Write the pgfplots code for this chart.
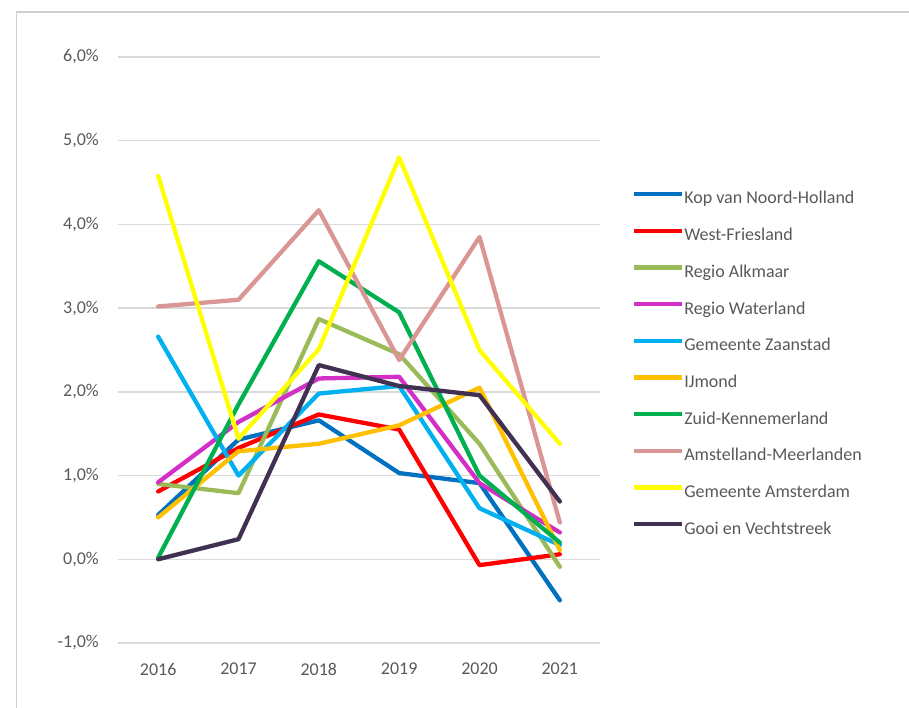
\documentclass[border=0pt]{standalone}
\usepackage{pgfplots}
\pgfplotsset{compat=1.18}
\usepackage{fontspec}
\setmainfont{Carlito}

\definecolor{kop}{HTML}{0070C0}
\definecolor{westfr}{HTML}{FF0000}
\definecolor{alkmaar}{HTML}{9BBB59}
\definecolor{waterland}{HTML}{D22FC6}
\definecolor{zaanstad}{HTML}{00B0F0}
\definecolor{ijmond}{HTML}{FFC000}
\definecolor{zuidk}{HTML}{00B050}
\definecolor{amstelland}{HTML}{DA9694}
\definecolor{amsterdam}{HTML}{FFFF00}
\definecolor{gooi}{HTML}{403152}
\definecolor{txt}{HTML}{595959}
\definecolor{gridgray}{HTML}{D9D9D9}
\definecolor{framegray}{HTML}{D0D0D0}

\begin{document}
\begin{tikzpicture}[x=1pt,y=1pt]
\path[use as bounding box] (0,0) rectangle (909,-708);
\draw[framegray, line width=1.5pt] (16.5,-708) -- (16.5,-12) -- (909,-12);
\begin{axis}[
    at={(118pt,-643pt)}, anchor=south west,
    scale only axis,
    width=482pt, height=586pt,
    xmin=2015.5, xmax=2021.5,
    ymin=-1, ymax=6,
    xtick={2016,2017,2018,2019,2020,2021},
    xticklabels={2016,2017,2018,2019,2020,2021},
    ytick={-1,0,1,2,3,4,5,6},
    yticklabels={{-1,0\%},{0,0\%},{1,0\%},{2,0\%},{3,0\%},{4,0\%},{5,0\%},{6,0\%}},
    axis line style={draw=none},
    major tick length=0pt,
    ymajorgrids=true,
    grid style={gridgray, line width=1.3pt},
    tick label style={font=\fontsize{18}{21}\selectfont, text=txt},
    xticklabel style={anchor=center, inner sep=0pt, yshift=-26pt},
    yticklabel style={anchor=east, inner sep=0pt, xshift=-19pt},
    every axis plot/.append style={line width=4.3pt, line join=round, line cap=round},
    legend cell align=left,
    legend image code/.code={\draw[#1, line cap=butt] (0pt,5.8pt) -- (48pt,5.8pt);},
    legend style={
        at={(1.0664,0.7705)}, anchor=north west,
        draw=none, fill=none, inner sep=0pt, outer sep=0pt,
        font=\fontsize{18}{21}\selectfont, text=txt,
        row sep=20pt, column sep=0pt,
        nodes={inner sep=0pt, text height=12.5pt, text depth=4.2pt},
    },
]
\addplot[kop] coordinates {(2016,0.53)(2017,1.43)(2018,1.66)(2019,1.03)(2020,0.91)(2021,-0.49)};
\addplot[westfr] coordinates {(2016,0.81)(2017,1.33)(2018,1.73)(2019,1.55)(2020,-0.07)(2021,0.06)};
\addplot[alkmaar] coordinates {(2016,0.90)(2017,0.79)(2018,2.87)(2019,2.45)(2020,1.38)(2021,-0.09)};
\addplot[waterland] coordinates {(2016,0.92)(2017,1.64)(2018,2.16)(2019,2.18)(2020,0.91)(2021,0.32)};
\addplot[zaanstad] coordinates {(2016,2.66)(2017,1.00)(2018,1.98)(2019,2.07)(2020,0.61)(2021,0.17)};
\addplot[ijmond] coordinates {(2016,0.50)(2017,1.29)(2018,1.38)(2019,1.60)(2020,2.05)(2021,0.11)};
\addplot[zuidk] coordinates {(2016,0.02)(2017,1.85)(2018,3.56)(2019,2.95)(2020,1.00)(2021,0.20)};
\addplot[amstelland] coordinates {(2016,3.02)(2017,3.10)(2018,4.17)(2019,2.38)(2020,3.85)(2021,0.44)};
\addplot[amsterdam] coordinates {(2016,4.58)(2017,1.44)(2018,2.51)(2019,4.80)(2020,2.50)(2021,1.38)};
\addplot[gooi] coordinates {(2016,0.00)(2017,0.24)(2018,2.32)(2019,2.07)(2020,1.96)(2021,0.69)};
\legend{Kop van Noord-Holland,West-Friesland,Regio Alkmaar,Regio Waterland,Gemeente Zaanstad,IJmond,Zuid-Kennemerland,Amstelland-Meerlanden,Gemeente Amsterdam,Gooi en Vechtstreek}
\end{axis}
\end{tikzpicture}
\end{document}
